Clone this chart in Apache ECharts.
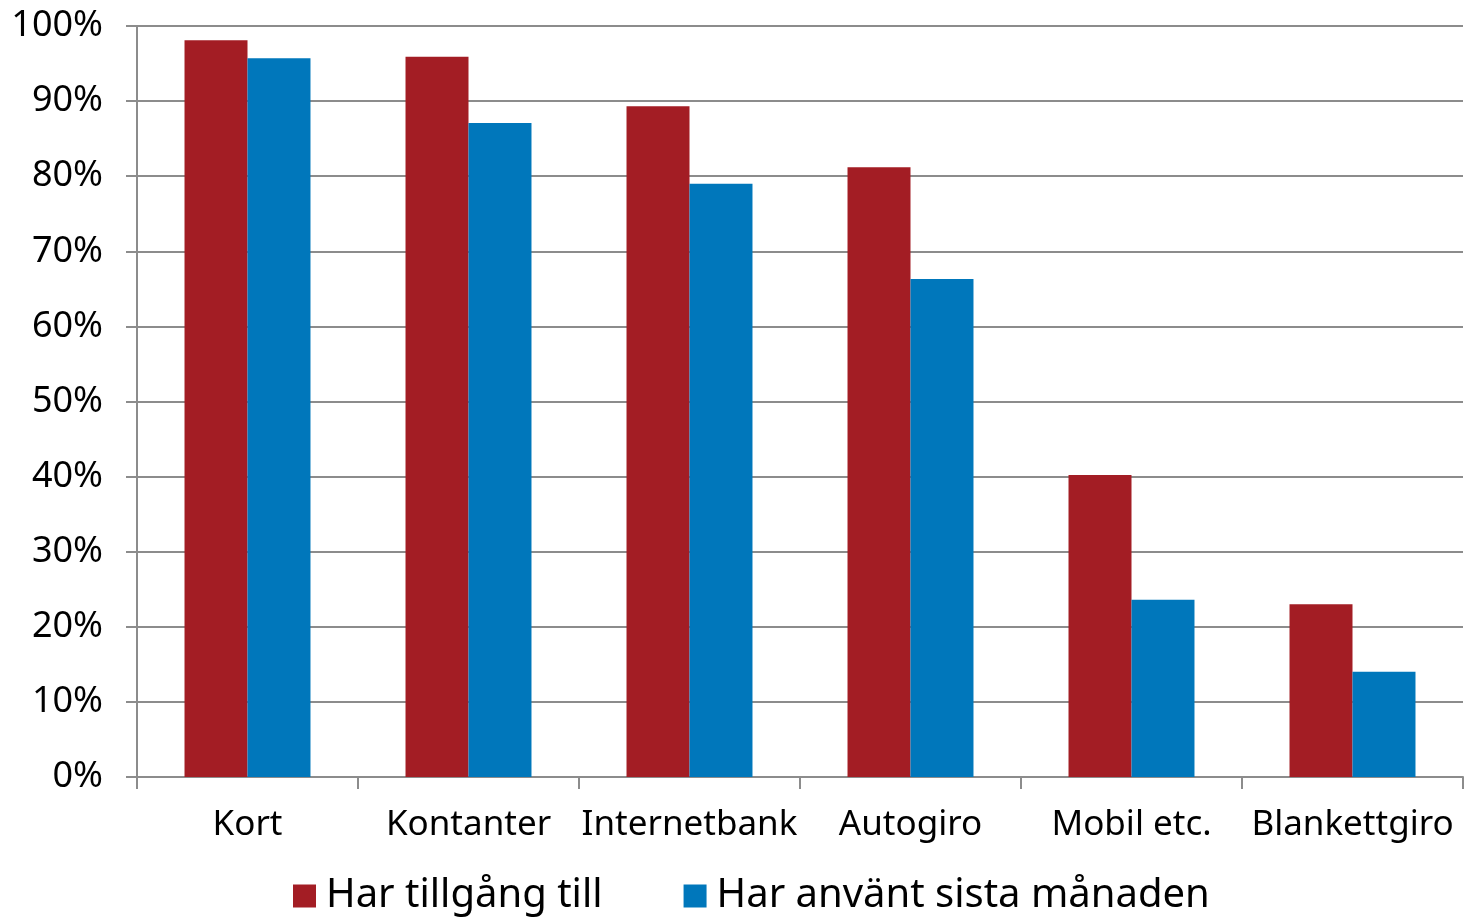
<!DOCTYPE html>
<html><head><meta charset="utf-8">
<script src="https://cdn.jsdelivr.net/npm/echarts@6/dist/echarts.min.js"></script>
<style>html,body{margin:0;padding:0;background:#fff}#c{width:1466px;height:918px}</style>
</head><body><div id="c"></div>
<script>
const categories = ['Kort','Kontanter','Internetbank','Autogiro','Mobil etc.','Blankettgiro'];
const seriesNames = ['Har tillgång till','Har använt sista månaden'];
const tillgang = [98.1, 95.9, 89.3, 81.2, 40.2, 23.0];
const anvant = [95.7, 87.1, 79.0, 66.3, 23.6, 14.0];
const FONT = '"Noto Sans", "Open Sans", sans-serif';
const chart = echarts.init(document.getElementById('c'));
chart.setOption({
  animation:false,
  textStyle:{fontFamily:FONT},
  grid:{left:137,right:3,top:26,bottom:141,containLabel:false},
  legend:{
    data:seriesNames, bottom:-3, left:288, itemWidth:23, itemHeight:23, itemGap:81,
    icon:'rect', textStyle:{fontSize:40,color:'#000',fontFamily:FONT,padding:[0,0,0,5]}
  },
  xAxis:{
    type:'category', data:categories,
    axisLine:{lineStyle:{color:'#8c8c8c',width:2}},
    axisTick:{show:true,length:12,lineStyle:{color:'#8c8c8c',width:2}},
    axisLabel:{fontSize:35,color:'#000',margin:31,interval:0,fontFamily:FONT}
  },
  yAxis:{
    type:'value', min:0, max:100, interval:10,
    axisLine:{show:true,lineStyle:{color:'#8c8c8c',width:2}},
    axisTick:{show:true,length:11,lineStyle:{color:'#8c8c8c',width:2}},
    splitLine:{lineStyle:{color:'#8c8c8c',width:2}},
    axisLabel:{fontSize:36,color:'#000',margin:34,formatter:'{value}%',fontFamily:FONT}
  },
  series:[
    {name:seriesNames[0],type:'bar',data:tillgang,barGap:'0%',barCategoryGap:'43%',itemStyle:{color:'#A31D24'}},
    {name:seriesNames[1],type:'bar',data:anvant,barGap:'0%',barCategoryGap:'43%',itemStyle:{color:'#0077BB'}}
  ]
});
</script></body></html>
